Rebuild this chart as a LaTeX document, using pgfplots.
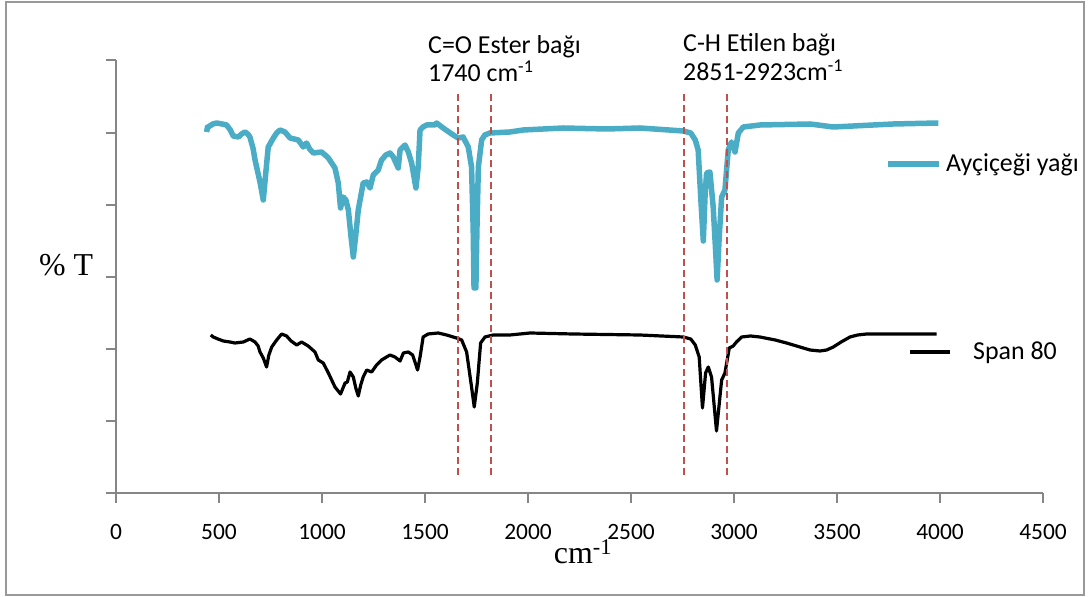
\documentclass[border=0pt]{standalone}
\usepackage{pgfplots}
\pgfplotsset{compat=1.18}
\usepackage{fontspec}
\setmainfont{Carlito}
\newfontfamily\timesf{Liberation Serif}
\definecolor{aqua}{HTML}{4BACC6}
\definecolor{dred}{HTML}{C0504D}
\definecolor{axgray}{HTML}{868686}
\begin{document}
\begin{tikzpicture}
\useasboundingbox (0bp,0bp) rectangle (1089bp,597bp);
\draw[color=black!40, line width=2bp] (6bp,2bp) rectangle (1084bp,595bp);
\begin{axis}[
  at={(116bp,104bp)}, anchor=south west,
  scale only axis, width=927bp, height=433bp,
  xmin=0, xmax=4500, ymin=0, ymax=433,
  enlargelimits=false,
  axis lines=left, axis line style={-, draw=axgray, line width=1.5bp},
  xtick={0,500,...,4500}, ytick={0,72,144,216,288,360,433},
  yticklabels={},
  scaled x ticks=false,
  /pgf/number format/1000 sep={},
  /pgf/number format/assume math mode=true,
  tick align=outside, major tick length=10bp,
  tick style={draw=axgray, line width=1.5bp},
  xticklabel style={font=\fontsize{23.5}{23.5}\selectfont, anchor=base, yshift=-36bp, inner sep=0pt},
]
\addplot[aqua, line width=5.5bp, line join=round] coordinates {
(440,361) (444,366) (448,366) (470,369) (489,370) (515,369) (537,368) (555,363) (569,357) (594,356) (610,359) (626,361) (640,359) (650,356)
(665,345) (675,333) (700,310) (715,293) (727,320) (739,346) (764,355) (780,360) (796,363) (820,361) (845,355) (885,353)
(909,346) (925,350) (940,344) (958,340) (998,341) (1015,338) (1031,335) (1063,325) (1079,310) (1090,285)
(1103,296) (1116,293) (1128,283) (1140,258) (1152,236) (1164,258) (1176,283) (1200,310) (1217,311) (1233,305)
(1249,318) (1273,323) (1289,333) (1310,338) (1330,340) (1346,336) (1370,325) (1379,343) (1403,348)
(1419,341) (1435,330) (1456,305) (1467,326) (1476,363) (1490,366) (1508,368) (1548,368) (1556,370)
(1588,365) (1637,358) (1661,355) (1685,356) (1710,346) (1726,326) (1734,263) (1738,205)
(1747,205) (1752,263) (1759,326) (1775,353) (1790,358) (1815,360) (1912,361) (1977,363) (2171,365)
(2382,364) (2543,365) (2754,362) (2790,360) (2812,353) (2826,343) (2840,290) (2851,252) (2860,300) (2867,320) (2883,321)
(2899,286) (2910,245) (2918,213) (2928,255) (2940,296) (2956,303) (2972,343) (2988,351) (3005,341) (3021,360)
(3045,366) (3126,368) (3369,369) (3482,366) (3773,369) (3992,370)
};
\addplot[black, line width=3.2bp, line join=round] coordinates {
(460,158) (472,156) (495,154) (521,152) (553,151) (578,150) (618,151) (650,154) (675,151)
(690,147) (699,141) (715,135) (731,126) (742,138) (756,146) (780,153) (804,159) (828,157) (850,152) (877,148) (901,151)
(933,147) (966,141) (982,133) (1006,130) (1031,120) (1063,106) (1090,99) (1112,110)
(1123,111) (1136,121) (1152,116) (1164,105) (1176,97) (1188,108) (1200,116) (1217,123) (1241,121) (1265,128)
(1289,133) (1330,138) (1354,136) (1379,132) (1395,140) (1419,141) (1440,138) (1464,123)
(1476,136) (1491,156) (1515,159) (1564,160) (1605,158) (1653,155) (1678,153) (1702,141)
(1726,106) (1739,86) (1754,110) (1770,150) (1791,156) (1831,158) (1912,158) (2010,160)
(2219,159) (2543,158) (2754,156) (2790,154) (2812,148) (2831,136) (2847,85) (2862,120) (2875,126)
(2891,116) (2915,62) (2940,113) (2956,120) (2977,145) (2996,147) (3012,151) (3037,156)
(3080,157) (3126,156) (3200,153) (3255,150) (3320,146) (3369,143) (3417,142) (3450,143) (3482,146) (3520,151) (3563,156) (3600,158) (3644,159) (3773,159)
(3983,159)
};
\addplot[dred, line width=2.5bp, dash pattern=on 7bp off 4bp] coordinates {(1660,18) (1660,401)};
\addplot[dred, line width=2.5bp, dash pattern=on 7bp off 4bp] coordinates {(1820,18) (1820,401)};
\addplot[dred, line width=2.5bp, dash pattern=on 7bp off 4bp] coordinates {(2757,18) (2757,401)};
\addplot[dred, line width=2.5bp, dash pattern=on 7bp off 4bp] coordinates {(2966,18) (2966,401)};
\end{axis}
\begin{scope}[every node/.style={inner sep=0pt, anchor=base west, font=\fontsize{26}{26}\selectfont}]
\node at (428bp,543.6bp) {C=O Ester bağı};
\node at (428bp,515.6bp) {1740 cm\textsuperscript{-1}};
\node at (683bp,545.6bp) {C-H Etilen bağı};
\node at (683bp,516.6bp) {2851-2923cm\textsuperscript{-1}};
\node at (946bp,425bp) {Ayçiçeği yağı};
\node at (973bp,237bp) {Span 80};
\end{scope}
\draw[aqua, line width=5.5bp] (888bp,433bp) -- (939bp,433bp);
\draw[black, line width=3.2bp] (910bp,245bp) -- (950bp,245bp);
\node[inner sep=0pt, font=\timesf\fontsize{32}{32}\selectfont] at (66bp,332bp) {\% T};
\node[inner sep=0pt, anchor=base, font=\timesf\fontsize{32}{32}\selectfont] at (583bp,34bp) {cm\textsuperscript{-1}};
\end{tikzpicture}
\end{document}
